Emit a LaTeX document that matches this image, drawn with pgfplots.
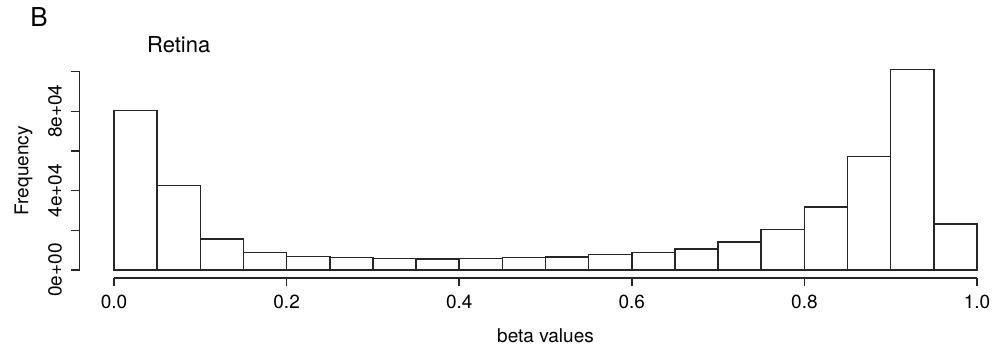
\documentclass[border=0pt]{standalone}
\usepackage{pgfplots}
\pgfplotsset{compat=1.18}
\usepackage{fontspec}
\setmainfont{TeX Gyre Heros}
\begin{document}
\fontsize{9.5bp}{11bp}\selectfont
\begin{tikzpicture}
\useasboundingbox (-39.75bp,-35bp) rectangle (458.25bp,139bp);
\begin{axis}[
 at={(0,0)}, anchor=south west,
 scale only axis, width=466bp, height=108.2bp,
 xmin=-0.04, xmax=1.04, ymin=-4040, ymax=105040,
 clip=false,
 axis line style={draw=none},
 tick pos=left, tick align=outside,
 major tick length=4.2bp,
 tick style={black!85, line width=0.75bp},
 xtick={0,0.2,0.4,0.6,0.8,1}, xticklabels={0.0,0.2,0.4,0.6,0.8,1.0},
 ytick={0,20000,40000,60000,80000,100000}, yticklabels={0e+00,,4e+04,,8e+04,},
 scaled y ticks=false,
 xticklabel style={anchor=base, inner sep=0pt},
 yticklabel style={rotate=90, anchor=base, inner sep=0pt},
 xticklabel shift=10.95bp,
 yticklabel shift=4.7bp,
]
\addplot[ybar interval, fill=white, draw=black!85, line width=0.75bp] coordinates {
(0,80300) (0.05,42500) (0.1,15500) (0.15,8900) (0.2,6900) (0.25,6200)
(0.3,5700) (0.35,5500) (0.4,5700) (0.45,6200) (0.5,6550) (0.55,7700)
(0.6,8700) (0.65,10700) (0.7,14000) (0.75,20300) (0.8,31800) (0.85,57300)
(0.9,101000) (0.95,23200) (1.0,23200)};
\draw[line width=0.75bp, black!85] (axis cs:0,-4040) -- (axis cs:1,-4040);
\draw[line width=0.75bp, black!85] (axis cs:-0.04,0) -- (axis cs:-0.04,100000);
\end{axis}
\node[anchor=base west, inner sep=0pt, font=\fontsize{13bp}{15bp}\selectfont] at (-24.75bp,125.65bp) {B};
\node[anchor=base west, inner sep=0pt, font=\fontsize{11bp}{13bp}\selectfont] at (33.6bp,112.85bp) {Retina};
\node[anchor=base, inner sep=0pt] at (233bp,-32.35bp) {beta values};
\node[rotate=90, anchor=base, inner sep=0pt] at (-25.6bp,53.6bp) {Frequency};
\end{tikzpicture}
\end{document}
